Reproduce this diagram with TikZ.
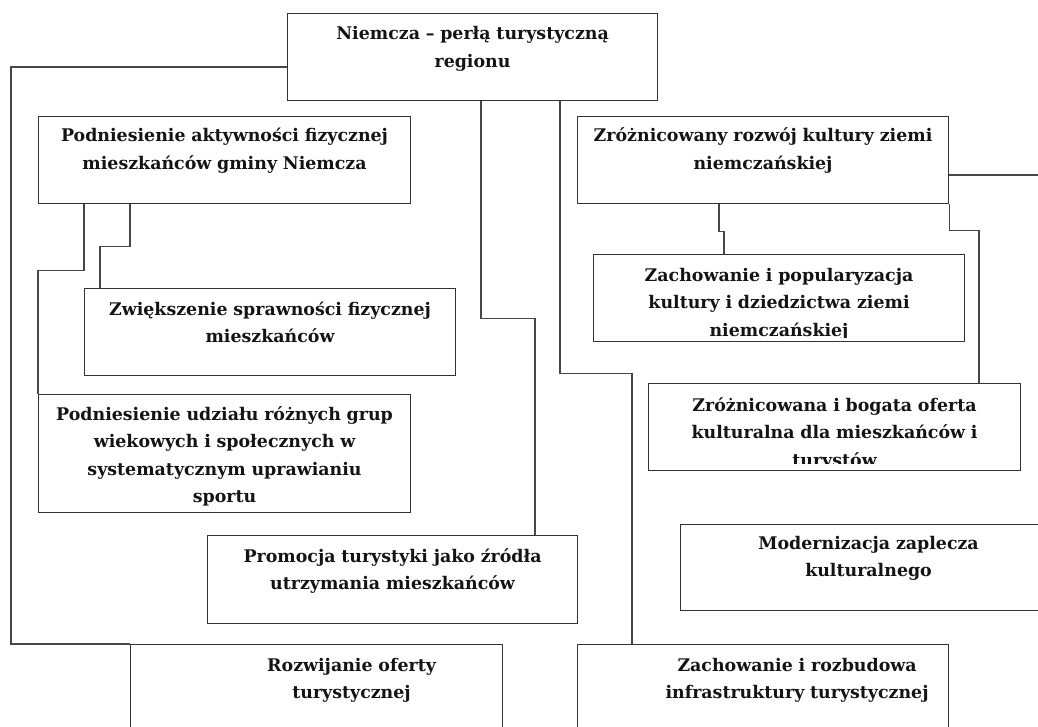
\documentclass[tikz,border=0pt]{standalone}
\usepackage{fontspec}
\setmainfont{DejaVu Serif}
\usetikzlibrary{calc}
\tikzset{
  box/.style={draw=black!80, line width=1.1pt, inner sep=0pt, anchor=north west, fill=none},
  txt/.style={font=\bfseries\fontsize{17.4}{27.5}\selectfont, text width=400pt, align=center, anchor=base, inner sep=0pt, text=black!92},
  conn/.style={draw=black!72, line width=1.1pt}
}
\begin{document}
\begin{tikzpicture}[x=1pt,y=-1pt]
\clip (0,0) rectangle (1038,727);
\fill[white] (0,0) rectangle (1038,727);
% boxes
\node[box, minimum width=370pt, minimum height=87pt] (root) at (287,13) {};
\node[box, minimum width=372pt, minimum height=87pt] (A) at (38,116) {};
\node[box, minimum width=371pt, minimum height=87pt] (A1) at (84,288) {};
\node[box, minimum width=372pt, minimum height=118pt] (A2) at (38,394) {};
\node[box, minimum width=370pt, minimum height=88pt] (P) at (207,535) {};
\node[box, minimum width=372pt, minimum height=100pt] (R) at (130,644) {};
\node[box, minimum width=371pt, minimum height=87pt] (Z) at (577,116) {};
\node[box, minimum width=371pt, minimum height=87pt] (Z1) at (593,254) {};
\node[box, minimum width=372pt, minimum height=87pt] (Z2) at (648,383) {};
\node[box, minimum width=370pt, minimum height=86pt] (M) at (680,524) {};
\node[box, minimum width=371pt, minimum height=100pt] (I) at (577,644) {};
% texts
\node[txt] (troot) at ([yshift=-27pt]root.north) {Niemcza – perłą turystyczną\\regionu};
\node[txt] (tA) at ([yshift=-26pt]A.north) {Podniesienie aktywności fizycznej\\mieszkańców gminy Niemcza};
\node[txt] (tA1) at ([yshift=-27pt]A1.north) {Zwiększenie sprawności fizycznej\\mieszkańców};
\node[txt] (tA2) at ([yshift=-26pt]A2.north) {Podniesienie udziału różnych grup\\wiekowych i społecznych w\\systematycznym uprawianiu\\sportu};
\node[txt] (tP) at ([yshift=-27pt]P.north) {Promocja turystyki jako źródła\\utrzymania mieszkańców};
\node[txt] (tR) at ([xshift=35pt,yshift=-27pt]R.north) {Rozwijanie oferty\\turystycznej};
\node[txt] (tZ) at ([yshift=-26pt]Z.north) {Zróżnicowany rozwój kultury ziemi\\niemczańskiej};
\begin{scope}
\clip ($(Z1.north west)$) rectangle ($(Z1.south east)+(0,-5)$);
\node[txt] (tZ1) at ([yshift=-27pt]Z1.north) {Zachowanie i popularyzacja\\kultury i dziedzictwa ziemi\\niemczańskiej};
\end{scope}
\begin{scope}
\clip ($(Z2.north west)$) rectangle ($(Z2.south east)+(0,-8)$);
\node[txt] (tZ2) at ([yshift=-28pt]Z2.north) {Zróżnicowana i bogata oferta\\kulturalna dla mieszkańców i\\turystów};
\end{scope}
\node[txt] (tM) at ([xshift=3pt,yshift=-25pt]M.north) {Modernizacja zaplecza\\kulturalnego};
\node[txt] (tI) at ([xshift=34pt,yshift=-27pt]I.north) {Zachowanie i rozbudowa\\infrastruktury turystycznej};
% connectors
\coordinate (zend) at (1038,175);
\draw[conn] ($(root.north west)+(0,54)$) -- (11,67) |- (R.north west);
\draw[conn] ($(root.south west)+(194,0)$) -- ++(0,217) -| ($(P.north west)+(328,0)$);
\draw[conn] ($(root.south west)+(273,0)$) -- ++(0,272) -| ($(I.north west)+(55,0)$);
\draw[conn] ($(A.south west)+(46,0)$) -- ++(0,66) -| (A2.north west);
\draw[conn] ($(A.south west)+(92,0)$) -- ++(0,42) -| ($(A1.north west)+(16,0)$);
\draw[conn] ($(Z.south west)+(142,0)$) -- ++(0,27) -| ($(Z1.north west)+(131,0)$);
\draw[conn] (Z.south east) -- ++(0,26) -| ($(Z2.north west)+(331,0)$);
\draw[conn] ($(Z.north east)+(0,59)$) -- (zend);
\end{tikzpicture}
\end{document}
